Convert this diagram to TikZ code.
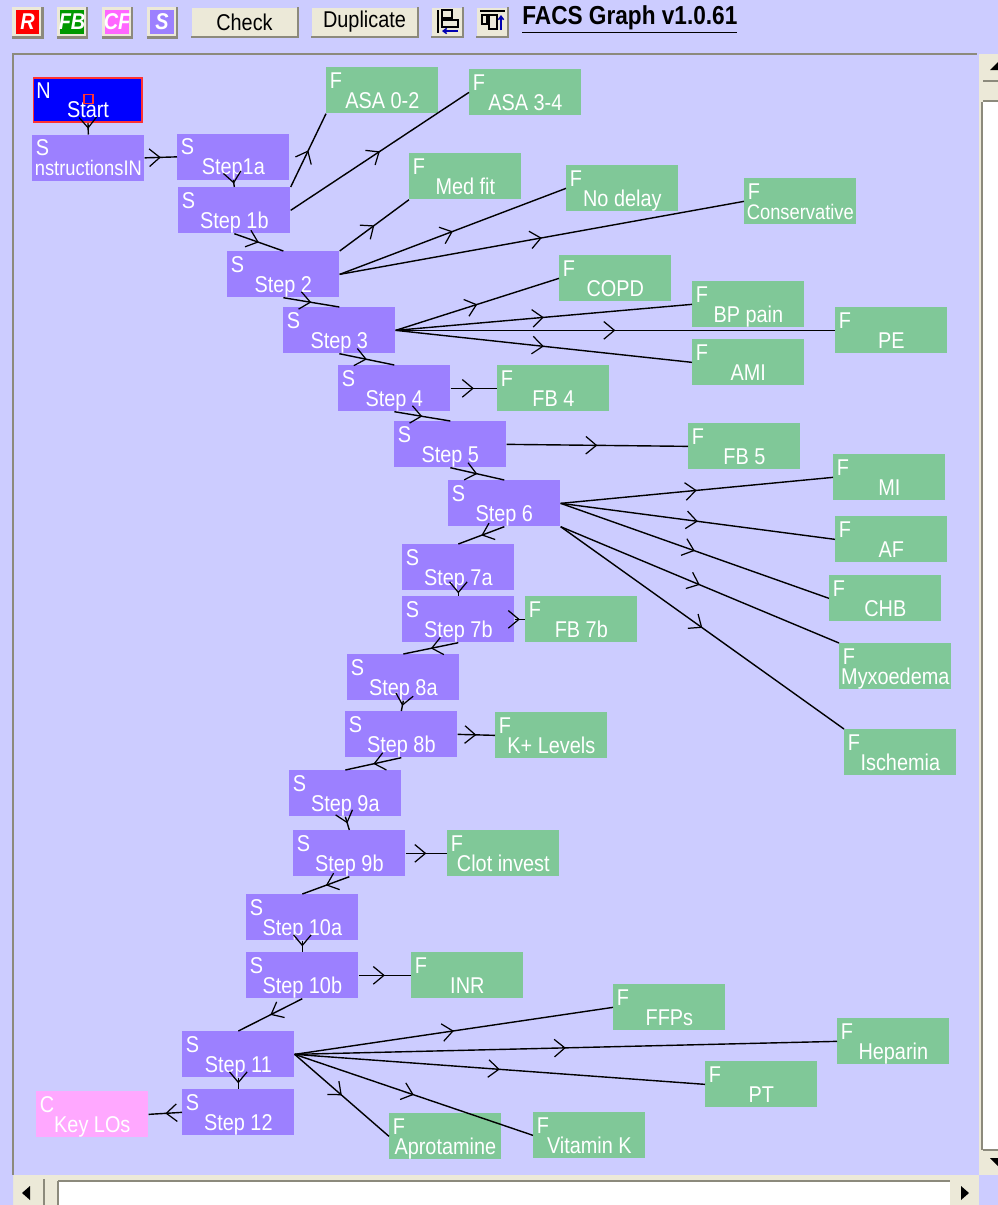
\documentclass[tikz,border=0pt]{standalone}
\usepackage{fontspec}
\setmainfont[FakeStretch=0.87]{Liberation Sans}
\usepackage{tikz}
\usetikzlibrary{calc, positioning, arrows.meta, decorations.markings}
\definecolor{panelBg}{HTML}{CCCCFF}
\definecolor{stepCol}{HTML}{9C80FF}
\definecolor{fbCol}{HTML}{80C898}
\definecolor{keyCol}{HTML}{FFA8FF}
\definecolor{cfCol}{HTML}{FF66FF}
\definecolor{btnFace}{HTML}{ECE9D8}
\definecolor{btnEdge}{HTML}{8C8A7C}
\tikzset{
    facsBox/.style 2 args={
        rectangle, anchor=north west, fill=#1,
        minimum width=2.24cm, inner xsep=0pt,
        text height=0.72cm, text depth=0cm, inner ysep=0.1cm,
        text=white, font=\fontsize{13}{13}\selectfont,
        label={[letter]north west:#2}
    },
    letter/.style={anchor=north west, inner sep=0pt, xshift=0.07cm, yshift=-0.1cm, text=white, font=\fontsize{13}{13}\selectfont},
    stepBox/.style={facsBox={stepCol}{S}},
    fbBox/.style={facsBox={fbCol}{F}},
    longName/.style={font=\fontsize{12}{12}\selectfont},
    link/.style={
        line width=0.8pt, black,
        postaction={decorate},
        decoration={markings, mark=at position 0.5 with {\arrow[line width=0.7pt]{Straight Barb[length=6pt,width=10pt]}}}
    },
    btn/.style={rectangle, fill=btnFace, minimum height=0.58cm, minimum width=2.12cm, inner sep=0pt, font=\fontsize{13}{13}\selectfont},
    toolBtn/.style={rectangle, fill=#1, draw=btnFace, line width=0.07cm, minimum size=0.54cm, inner sep=0pt, text=white, font=\fontsize{13}{13}\selectfont\bfseries\itshape},
    bevel/.style={btnEdge, line width=0.05cm},
    frameLine/.style={btnEdge, line width=0.05cm}
}
\begin{document}
\begin{tikzpicture}[x=0.02cm, y=-0.02cm]
    % Window
    \fill[panelBg] (0,0) rectangle (998,1205);
    \useasboundingbox (0,0) rectangle (998,1205);
    \draw[frameLine] (13,1175) -- (13,54) -- (977,54);

    % Toolbar
    \node[toolBtn=red] (btnR) at (27.5,22) {R};
    \node[toolBtn=green!60!black] (btnFB) at (72,22) {FB};
    \node[toolBtn=cfCol] (btnCF) at (117,22) {CF};
    \node[toolBtn=stepCol] (btnS) at (162,22) {S};
    \node[btn] (btnCheck) at (244.5,22) {Check};
    \node[btn] (btnDup) at (364.5,22) {Duplicate};
    \node[btn, minimum width=0.62cm] (btnLeft) at (447,22) {};
    \node[btn, minimum width=0.62cm] (btnTop) at (492,22) {};
    \foreach \b in {btnR, btnFB, btnCF, btnS, btnCheck, btnDup, btnLeft, btnTop}
        \draw[bevel] (\b.south west) -- (\b.south east) -- (\b.north east);
    \draw[line width=0.05cm] (438,10) -- (438,33);
    \draw[line width=0.03cm] (442,10) rectangle (452,18) (442,20) rectangle (458,27);
    \draw[blue!70!black, line width=0.03cm, -{Straight Barb[length=2pt,width=3pt]}] (458,31) -- (442,31);
    \draw[line width=0.05cm] (480,11) -- (505,11);
    \draw[line width=0.03cm] (482,15) rectangle (487,24) (489,15) rectangle (497,29);
    \draw[blue!70!black, line width=0.03cm, -{Straight Barb[length=2pt,width=3pt]}] (501,30) -- (501,15);
    \node[anchor=west, inner sep=0pt, font=\fontsize{14.8}{14.8}\selectfont\bfseries] (title) at (522,20) {\underline{FACS Graph v1.0.61}};

    % Scroll bars
    \fill[btnFace] (979,54) rectangle (998,1175);
    \fill[white] (983,102) rectangle (998,1150);
    \draw[frameLine] (982,102) -- (982,1150) (983,81) -- (998,81) (983,101) -- (998,101) (983,1150) -- (998,1150);
    \fill (990,70) -- (998,62) -- (998,70) -- cycle;
    \fill (990,1158) -- (998,1158) -- (998,1166) -- cycle;
    \fill[btnFace] (0,1175) rectangle (998,1205);
    \fill[panelBg] (0,1175) rectangle (13,1205) (979,1175) rectangle (998,1205);
    \fill[white] (58,1181) rectangle (950,1205);
    \draw[frameLine] (44,1179) -- (44,1205) (58,1181) -- (950,1181) (58,1181) -- (58,1205);
    \fill (30,1186) -- (30,1200) -- (22,1193) -- cycle;
    \fill (961,1186) -- (961,1200) -- (969,1193) -- cycle;

    % Steps
    \node[facsBox={blue}{N}, draw=red!80!white, line width=0.04cm, minimum width=2.18cm, text height=0.68cm] (start) at (32.5,77) {Start};
    \node[draw=red!80!white, line width=0.03cm, minimum size=0.18cm, inner sep=0pt] (handle) at (88.5,99) {};
    \node[stepBox, longName] (instr) at (32,134.5) {nstructionsIN};
    \node[stepBox] (step1a) at (177,133.5) {Step1a};
    \node[stepBox] (step1b) at (178,187) {Step 1b};
    \node[stepBox] (step2) at (227,251) {Step 2};
    \node[stepBox] (step3) at (283,307) {Step 3};
    \node[stepBox] (step4) at (338,365) {Step 4};
    \node[stepBox] (step5) at (394,421) {Step 5};
    \node[stepBox] (step6) at (448,480) {Step 6};
    \node[stepBox] (step7a) at (402,544) {Step 7a};
    \node[stepBox] (step7b) at (402,596) {Step 7b};
    \node[stepBox] (step8a) at (347,654) {Step 8a};
    \node[stepBox] (step8b) at (345,711) {Step 8b};
    \node[stepBox] (step9a) at (289,770) {Step 9a};
    \node[stepBox] (step9b) at (293,830) {Step 9b};
    \node[stepBox] (step10a) at (246,894) {Step 10a};
    \node[stepBox] (step10b) at (246,952) {Step 10b};
    \node[stepBox] (step11) at (182,1031) {Step 11};
    \node[stepBox] (step12) at (182,1089) {Step 12};
    \node[facsBox={keyCol}{C}] (keyLOs) at (36,1091) {Key LOs};

    % Feedback
    \node[fbBox] (asaLow) at (326,67) {ASA 0-2};
    \node[fbBox] (asaHigh) at (469,69) {ASA 3-4};
    \node[fbBox] (medFit) at (409,153) {Med fit};
    \node[fbBox] (noDelay) at (566,165) {No delay};
    \node[fbBox, longName] (conserv) at (744,178) {Conservative};
    \node[fbBox] (copd) at (559,255) {COPD};
    \node[fbBox] (bpPain) at (692,281) {BP pain};
    \node[fbBox] (pe) at (835,307) {PE};
    \node[fbBox] (ami) at (692,339) {AMI};
    \node[fbBox] (fb4) at (497,365) {FB 4};
    \node[fbBox] (fb5) at (688,423) {FB 5};
    \node[fbBox] (mi) at (833,454) {MI};
    \node[fbBox] (af) at (835,516) {AF};
    \node[fbBox] (chb) at (829,575) {CHB};
    \node[fbBox] (myxo) at (839,643) {Myxoedema};
    \node[fbBox] (isch) at (844,729) {Ischemia};
    \node[fbBox] (fb7b) at (525,596) {FB 7b};
    \node[fbBox] (kLevels) at (495,712) {K+ Levels};
    \node[fbBox] (clot) at (447,830) {Clot invest};
    \node[fbBox] (inr) at (411,952) {INR};
    \node[fbBox] (ffps) at (613,984) {FFPs};
    \node[fbBox] (heparin) at (837,1018) {Heparin};
    \node[fbBox] (pt) at (705,1061) {PT};
    \node[fbBox] (aprot) at (389,1113) {Aprotamine};
    \node[fbBox] (vitK) at (533,1112) {Vitamin K};

    % Main chain
    \foreach \a/\b in {start/instr, step1a/step1b, step1b/step2, step2/step3, step3/step4, step4/step5, step5/step6, step6/step7a, step7a/step7b, step7b/step8a, step8a/step8b, step8b/step9a, step9a/step9b, step9b/step10a, step10a/step10b, step10b/step11, step11/step12}
        \draw[link] (\a.south) -- (\b.north);
    \draw[link] (instr.east) -- (step1a.west);
    \draw[link] (step12.west) -- (keyLOs.east);

    % Side links
    \draw[link] (step1b.north east) -- (asaLow.south west);
    \draw[link] (step1b.east) -- (asaHigh.west);
    \draw[link] (step2.north east) -- (medFit.south west);
    \foreach \b in {noDelay, conserv}
        \draw[link] (step2.east) -- (\b.west);
    \foreach \b in {copd, bpPain, pe, ami}
        \draw[link] (step3.east) -- (\b.west);
    \draw[link] (step4.east) -- (fb4.west);
    \draw[link] (step5.east) -- (fb5.west);
    \foreach \b in {mi, af, chb}
        \draw[link] (step6.east) -- (\b.west);
    \foreach \b in {myxo, isch}
        \draw[link] (step6.south east) -- (\b.north west);
    \draw[link] (step7b.east) -- (fb7b.west);
    \draw[link] (step8b.east) -- (kLevels.west);
    \draw[link] (step9b.east) -- (clot.west);
    \draw[link] (step10b.east) -- (inr.west);
    \foreach \b in {ffps, heparin, pt, aprot, vitK}
        \draw[link] (step11.east) -- (\b.west);
\end{tikzpicture}
\end{document}
